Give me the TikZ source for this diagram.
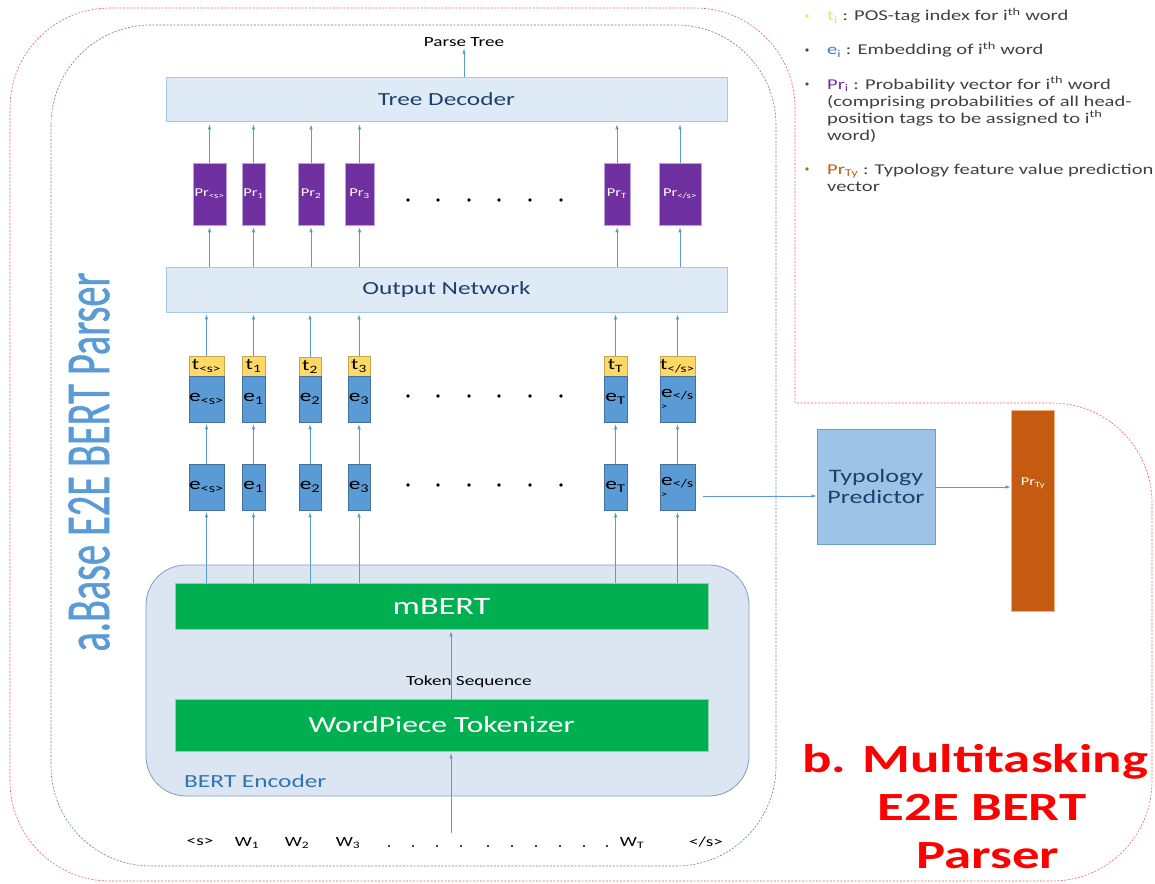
\documentclass[tikz,border=0pt]{standalone}
\usepackage{fontspec}
\setmainfont{Carlito}[FakeStretch=1.37]
\newfontfamily\vertfont{Carlito}[FakeStretch=0.64,FakeBold=0.8]
\usetikzlibrary{arrows.meta}
\definecolor{arrowc}{HTML}{5B9BD5}
\definecolor{prc}{HTML}{7030A0}
\definecolor{prborder}{HTML}{B9A3D6}
\definecolor{tyel}{HTML}{FFD966}
\definecolor{tborder}{HTML}{C4A850}
\definecolor{eboxc}{HTML}{5B9BD5}
\definecolor{eborder}{HTML}{41719C}
\definecolor{widefill}{HTML}{DEEBF7}
\definecolor{wideborder}{HTML}{A9C8E8}
\definecolor{navy}{HTML}{1F3F6E}
\definecolor{bertfill}{HTML}{DCE6F3}
\definecolor{bertborder}{HTML}{7F9DC4}
\definecolor{bertText}{HTML}{2E75B6}
\definecolor{gr}{HTML}{00B050}
\definecolor{grborder}{HTML}{8FD0A8}
\definecolor{typfill}{HTML}{9DC3E6}
\definecolor{typborder}{HTML}{6D9BD0}
\definecolor{orc}{HTML}{C55A11}
\definecolor{orborder}{HTML}{F4B183}
\definecolor{redtext}{HTML}{FF0000}
\definecolor{reddash}{HTML}{F06060}
\definecolor{bluedash}{HTML}{5A7FB8}
\definecolor{vblue}{HTML}{5B9BD5}
\definecolor{legtext}{HTML}{404040}
\definecolor{legeblue}{HTML}{4A78B8}
\definecolor{bulletblue}{HTML}{1F4E79}
\newcommand\myfs[1]{\fontsize{#1}{#1}\selectfont}
\begin{document}
\begin{tikzpicture}[x=1pt,y=-1pt,
 arr/.style={draw=arrowc, line width=0.7pt, -{Latex[length=5pt,width=3.6pt]}},
 wide/.style={draw=wideborder, fill=widefill, line width=0.8pt, minimum width=561, minimum height=44, inner sep=0, text=navy, font=\myfs{18.5}},
 prbox/.style={fill=prc, draw=prborder, line width=0.6pt, minimum height=62, inner sep=0, text=white, font=\myfs{12}},
 tbox/.style={fill=tyel, draw=tborder, line width=0.6pt, minimum height=20, inner sep=0, font=\myfs{16}},
 ebox/.style={fill=eboxc, draw=eborder, line width=0.6pt, minimum height=46, inner sep=0, font=\myfs{17}},
 greenbox/.style={fill=gr, draw=grborder, line width=0.6pt, minimum width=533, inner sep=0, text=white},
 lab/.style={inner sep=0, font=\myfs{14}},
 leg/.style={inner sep=0, anchor=base west, font=\myfs{15}, text=legtext},
 btitle/.style={inner sep=0, anchor=base, text=redtext, font=\bfseries\myfs{40}},
]
\useasboundingbox (0,0) rectangle (1155,883);

% dashed boundaries
\draw[reddash, line width=0.6pt, dash pattern=on 2pt off 1.5pt, rounded corners=100]
  (795,403) -- (795,8) -- (10,8) -- (10,881) -- (1152,881) -- (1152,403) -- (795,403);
\draw[bluedash, line width=0.6pt, dash pattern=on 2pt off 1.5pt, rounded corners=100]
  (51,25) rectangle (776,866);

% vertical title
\node[rotate=90, inner sep=0, text=vblue, font=\vertfont\myfs{63}] (vt) at (89,462) {a.Base E2E BERT Parser};

% Tree decoder and output network
\node[wide] (TD) at (446.5,99) {Tree Decoder};
\node[wide, minimum height=45] (ON) at (446.5,289.5) {Output Network};
\node[lab] (pt) at (464,42) {Parse Tree};

% Pr boxes
\node[prbox, minimum width=33] (p0) at (209.5,194) {Pr\textsubscript{<s>}};
\node[prbox, minimum width=23] (p1) at (253.5,194) {Pr\textsubscript{1}};
\node[prbox, minimum width=26] (p2) at (311,194) {Pr\textsubscript{2}};
\node[prbox, minimum width=29] (p3) at (359.5,194) {Pr\textsubscript{3}};
\node[prbox, minimum width=26] (pT) at (617,194) {Pr\textsubscript{T}};
\node[prbox, minimum width=42] (pE) at (680,194) {Pr\textsubscript{</s>}};

% t boxes
\node[tbox, minimum width=35] (t0) at (206.5,366) {t\textsubscript{<s>}};
\node[tbox, minimum width=23] (t1) at (253.5,366) {t\textsubscript{1}};
\node[tbox, minimum width=22] (t2) at (310,367) {t\textsubscript{2}};
\node[tbox, minimum width=22] (t3) at (359,366) {t\textsubscript{3}};
\node[tbox, minimum width=23] (tT) at (615.5,366) {t\textsubscript{T}};
\node[tbox, minimum width=35] (tE) at (677.5,366) {t\textsubscript{</s>}};

% upper e boxes
\node[ebox, minimum width=35] (ue0) at (206.5,399) {e\textsubscript{<s>}};
\node[ebox, minimum width=23] (ue1) at (253.5,399) {e\textsubscript{1}};
\node[ebox, minimum width=22] (ue2) at (310,399) {e\textsubscript{2}};
\node[ebox, minimum width=22] (ue3) at (359,399) {e\textsubscript{3}};
\node[ebox, minimum width=23] (ueT) at (615.5,399) {e\textsubscript{T}};
\node[ebox, minimum width=35, align=left] (ueE) at (677.5,399) {e\textsubscript{</s}\\[-5pt]{\myfs{9}>}};

% lower e boxes
\node[ebox, minimum width=35] (le0) at (206.5,487) {e\textsubscript{<s>}};
\node[ebox, minimum width=23] (le1) at (253.5,487) {e\textsubscript{1}};
\node[ebox, minimum width=22] (le2) at (310,487) {e\textsubscript{2}};
\node[ebox, minimum width=22] (le3) at (359,487) {e\textsubscript{3}};
\node[ebox, minimum width=23] (leT) at (615.5,487) {e\textsubscript{T}};
\node[ebox, minimum width=35, align=left] (leE) at (677.5,487) {e\textsubscript{</s}\\[-5pt]{\myfs{9}>}};

% dots
\foreach \y in {200,396,485}
  \foreach \x in {408,438,469,499,530,561}
    \fill (\x,\y) circle (1.8);

% BERT encoder
\draw[fill=bertfill, draw=bertborder, line width=0.8pt, rounded corners=40] (146,565) rectangle (749,796);
\node[inner sep=0, anchor=base west, text=bertText, font=\myfs{18.5}] (be) at (184,787) {BERT Encoder};
\node[greenbox, minimum height=46, font=\myfs{25}] (mb) at (441.5,606) {mBERT};
\node[greenbox, minimum height=52, font=\myfs{23}] (wp) at (441.5,725) {WordPiece Tokenizer};
\node[lab] (ts) at (469,682) {Token Sequence};
\coordinate (inp) at (451,833);
\draw[arr, shorten >=2pt] (inp) -- (inp |- wp.south);
\draw[arr, shorten >=2pt] (inp |- wp.north) -- (inp |- mb.south);

% input sequence
\node[lab] (w0) at (200,842) {<s>};
\node[lab] (w1) at (247,843) {W\textsubscript{1}};
\node[lab] (w2) at (297,843) {W\textsubscript{2}};
\node[lab] (w3) at (348,843) {W\textsubscript{3}};
\foreach \x in {389,413,437,461,488,512,536,560,584,607}
  \fill (\x,846) circle (1.1);
\node[lab] (wT) at (632,843) {W\textsubscript{T}};
\node[lab] (wE) at (706,842) {</s>};

% arrows in main stack
\draw[arr, shorten >=2pt] (pt.south |- TD.north) -- (pt.south);
\foreach \p in {p0,p1,p2,p3,pT,pE}{
  \draw[arr, shorten >=3pt] (\p.north) -- (\p.north |- TD.south);
  \draw[arr, shorten >=2pt] (\p.south |- ON.north) -- (\p.south);
}
\foreach \c in {0,1,2,3,T,E}{
  \draw[arr, shorten >=2pt] (t\c.north) -- (t\c.north |- ON.south);
  \draw[arr, shorten >=2pt] (le\c.north) -- (ue\c.south);
  \draw[arr, shorten >=2pt] (le\c.south |- mb.north) -- (le\c.south);
}

% typology branch
\node[fill=typfill, draw=typborder, line width=0.8pt, minimum width=118, minimum height=115, inner sep=0,
      align=center, text=navy, font=\fontsize{19}{21}\selectfont] (typ) at (876,486.5) {Typology\\Predictor};
\node[fill=orc, draw=orborder, line width=0.8pt, minimum width=43, minimum height=201, inner sep=0] (prty) at (1032.5,510.5) {};
\node[inner sep=0, text=white, font=\myfs{12}] (prtylab) at (1033,483) {Pr\textsubscript{Ty}};
\coordinate (tstart) at (703,496);
\draw[arr] (tstart) -- (tstart -| typ.west);
\draw[arr] (typ.east |- 0,487) -- (prty.west |- 0,487);

% b title
\node[btitle] (b1) at (975,772) {b. Multitasking};
\node[btitle] (b2) at (982,820) {E2E BERT};
\node[btitle] (b3) at (988,868) {Parser};

% legend
\fill[tyel] (807,16) circle (1.8);
\fill[bulletblue] (807,50) circle (1.8);
\fill[prc] (807,84) circle (1.8);
\fill[orc] (807,169) circle (1.8);
\node[leg] (l1) at (827,21) {{\color{tyel}t\textsubscript{i}} : POS-tag index for i\textsuperscript{th} word};
\node[leg] (l2) at (827,55) {{\color{legeblue}e\textsubscript{i}} : Embedding of i\textsuperscript{th} word};
\node[leg] (l3) at (827,89) {{\color{prc}Pr\textsubscript{i}} : Probability vector for i\textsuperscript{th} word};
\node[leg] (l4) at (827,106) {(comprising probabilities of all head-};
\node[leg] (l5) at (827,123) {position tags to be assigned to i\textsuperscript{th}};
\node[leg] (l6) at (827,140) {word)};
\node[leg] (l7) at (827,174) {{\color{orc}Pr\textsubscript{Ty}} : Typology feature value prediction};
\node[leg] (l8) at (827,191) {vector};
\end{tikzpicture}
\end{document}
